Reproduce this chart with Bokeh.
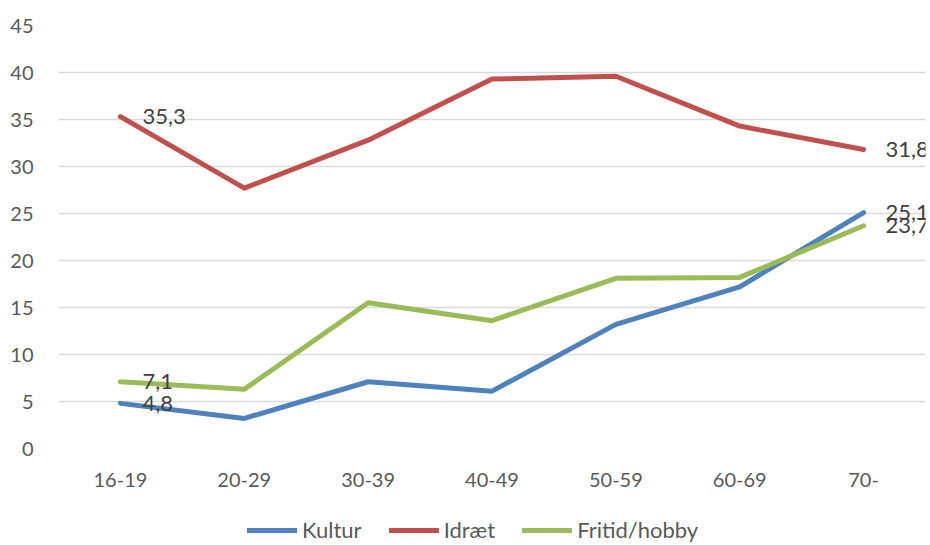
import numpy as np
from bokeh.plotting import figure
from bokeh.layouts import column
from bokeh.models import Legend, LegendItem, FactorRange, Range1d, ColumnDataSource, FixedTicker
from bokeh.embed import file_html
from bokeh.resources import INLINE
from bokeh.core.properties import value

categories = ["16-19", "20-29", "30-39", "40-49", "50-59", "60-69", "70-"]
kultur = [4.8, 3.2, 7.1, 6.1, 13.2, 17.2, 25.1]
idraet = [35.3, 27.7, 32.8, 39.3, 39.6, 34.3, 31.8]
fritid = [7.1, 6.3, 15.5, 13.6, 18.1, 18.2, 23.7]
series_names = ["Kultur", "Idræt", "Fritid/hobby"]
colors = ["#4F81BD", "#C0504D", "#9BBB59"]
y_ticks = [0, 5, 10, 15, 20, 25, 30, 35, 40, 45]

FONT = "Lato"

p = figure(width=930, height=500, x_range=FactorRange(factors=categories, range_padding=0),
           y_range=Range1d(0, 45), output_backend="svg", toolbar_location=None,
           min_border_left=58, min_border_top=25, min_border_right=5, min_border_bottom=52)
p.outline_line_color = None
p.xgrid.grid_line_color = None
p.ygrid.grid_line_color = "#D9D9D9"
p.ygrid.grid_line_width = 1.3
p.yaxis.ticker = FixedTicker(ticks=y_ticks)

for ax in (p.xaxis, p.yaxis):
    ax.axis_line_color = None
    ax.major_tick_line_color = None
    ax.minor_tick_line_color = None
    ax.major_tick_out = 0
    ax.major_tick_in = 0
    ax.major_label_text_font = FONT
    ax.major_label_text_font_size = "20px"
    ax.major_label_text_color = "#595959"
p.yaxis.major_label_standoff = 25
p.xaxis.major_label_standoff = 24

for name, vals, col in zip(series_names, [kultur, idraet, fritid], colors):
    src = ColumnDataSource(dict(x=categories, y=vals))
    p.line("x", "y", source=src, line_color=col, line_width=5, line_cap="round", line_join="round")
    lab = ColumnDataSource(dict(x=[categories[0], categories[-1]], y=[vals[0], vals[-1]],
                                t=[f"{vals[0]:.1f}".replace(".", ","), f"{vals[-1]:.1f}".replace(".", ",")]))
    p.text("x", "y", text="t", source=lab, x_offset=22, text_baseline="middle", text_align="left",
           text_font=value(FONT), text_font_size="22px", text_color="#404040")

# legend strip below the chart (its frame is aligned with the chart frame by the column layout)
leg = figure(width=930, height=45, x_range=Range1d(0, 1), y_range=Range1d(0, 1),
             output_backend="svg", toolbar_location=None, x_axis_location=None, y_axis_location=None,
             min_border_left=0, min_border_right=0, min_border_top=0, min_border_bottom=0)
leg.outline_line_color = None
leg.grid.visible = False
items = []
for name, col in zip(series_names, colors):
    d = leg.line(x=np.array([np.nan]), y=np.array([np.nan]), line_color=col, line_width=5, line_cap="round")
    items.append(LegendItem(label=name, renderers=[d]))

legend = Legend(items=items, orientation="horizontal", location=(189, 2),
                glyph_width=50, glyph_height=20, label_height=20, label_standoff=5, spacing=27,
                padding=0, margin=0, border_line_color=None, background_fill_alpha=0,
                label_text_font=FONT, label_text_font_size="22px", label_text_color="#595959")
leg.add_layout(legend, "center")

layout = column(p, leg, spacing=0)
open("out.html", "w").write(file_html(layout, INLINE))
